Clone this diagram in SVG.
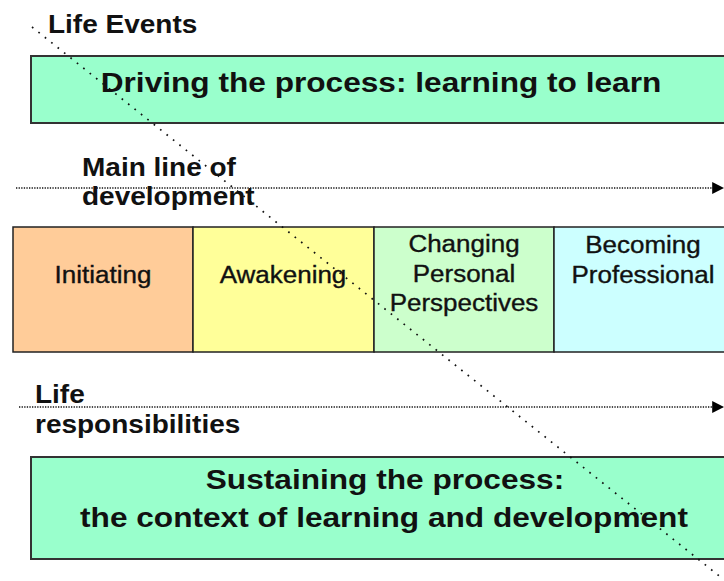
<svg xmlns="http://www.w3.org/2000/svg" width="724" height="581" viewBox="0 0 724 581">
<style>
.lbl{font-family:"Liberation Sans",Arial,sans-serif;font-weight:bold;font-size:25px;fill:#111}
.big{font-family:"Liberation Sans",Arial,sans-serif;font-weight:bold;font-size:28px;fill:#111;text-anchor:middle}
.stage{font-family:"Liberation Sans",Arial,sans-serif;font-size:23px;fill:#111;stroke:#111;stroke-width:0.35;text-anchor:middle}
.band{fill:#99FFCC;stroke:#333;stroke-width:2}
.box{stroke:#222;stroke-width:1.5}
.hline{stroke:#111;stroke-width:1.5;stroke-dasharray:1.3 1.3;fill:none}
.diag{stroke:#111;stroke-width:1.7;stroke-dasharray:1.7 6.5;fill:none}
</style>
<defs>
<marker id="arr" viewBox="0 0 10 10" refX="9" refY="5" markerWidth="12" markerHeight="12" markerUnits="userSpaceOnUse" orient="auto">
<path d="M0,0 L10,5 L0,10 z" fill="#000"/>
</marker>
</defs>
<rect width="724" height="581" fill="#fff"/>
<g id="life-events"><text class="lbl" transform="matrix(1.12 0 0 1 48 33)">Life Events</text></g>
<g id="driving"><rect class="band" x="31" y="56" width="700" height="67"/>
<text class="big" transform="matrix(1.13 0 0 1 381 92)">Driving the process: learning to learn</text></g>
<g id="main-line-label"><text class="lbl" transform="matrix(1.12 0 0 1 82 176)">Main line of</text>
<text class="lbl" transform="matrix(1.12 0 0 1 82 205)">development</text></g>
<g id="initiating"><rect class="box" x="13" y="227" width="180" height="125" fill="#FFCC99"/>
<text class="stage" transform="matrix(1.13 0 0 1 103 283)">Initiating</text></g>
<g id="awakening"><rect class="box" x="193" y="227" width="181" height="125" fill="#FFFF99"/>
<text class="stage" transform="matrix(1.13 0 0 1 283 283)">Awakening</text></g>
<g id="changing"><rect class="box" x="374" y="227" width="180" height="125" fill="#CCFFCC"/>
<text class="stage" transform="matrix(1.13 0 0 1 464 252)">Changing</text>
<text class="stage" transform="matrix(1.13 0 0 1 464 282)">Personal</text>
<text class="stage" transform="matrix(1.13 0 0 1 464 311)">Perspectives</text></g>
<g id="becoming"><rect class="box" x="554" y="227" width="180" height="125" fill="#CCFFFF"/>
<text class="stage" transform="matrix(1.13 0 0 1 643 253)">Becoming</text>
<text class="stage" transform="matrix(1.13 0 0 1 643 283)">Professional</text></g>
<g id="life-resp-label"><text class="lbl" transform="matrix(1.12 0 0 1 35 403)">Life</text>
<text class="lbl" transform="matrix(1.12 0 0 1 35 433)">responsibilities</text></g>
<g id="sustaining"><rect class="band" x="31" y="457" width="700" height="102"/>
<text class="big" transform="matrix(1.13 0 0 1 385 489)">Sustaining the process:</text>
<text class="big" transform="matrix(1.13 0 0 1 384 527)">the context of learning and development</text></g>
<g id="connectors">
<line class="hline" x1="16" y1="188" x2="723" y2="188" marker-end="url(#arr)"/>
<line class="hline" x1="19" y1="407" x2="723" y2="407" marker-end="url(#arr)"/>
<line class="diag" x1="32" y1="27" x2="723" y2="579"/>
</g>
</svg>
